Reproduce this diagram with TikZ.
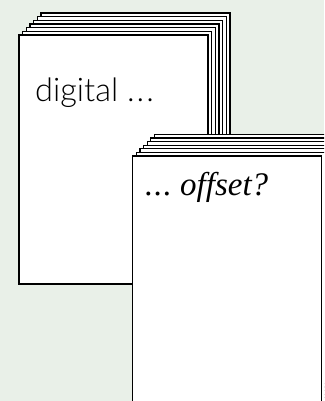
\documentclass[tikz,border=0pt]{standalone}
\usepackage{fontspec}
\newfontfamily\sansfont{Lato Light}
\newfontfamily\seriffont{Liberation Serif}
\definecolor{bg}{RGB}{233,240,232}
\begin{document}
\begin{tikzpicture}[x=1pt,y=-1pt,
  sheet/.style={draw=black, fill=white, line width=1.2pt, anchor=north west,
    minimum width=189pt, minimum height=249pt, inner sep=0pt, outer sep=0pt},
  label/.style={anchor=base west, inner sep=0pt}]
\useasboundingbox (0,0) rectangle (324,401);
\clip (0,0) rectangle (324,401);
\fill[bg] (0,0) rectangle (324,401);
% stack 1
\foreach \k in {6,5,...,1}{
  \node[sheet] (sa\k) at ({19+3.65*\k},{35-3.65*\k}) {};
}
\node[sheet] (sa0) at (19,35) {};
\node[label, font=\sansfont\fontsize{32.5}{40}\selectfont] (ta) at (35,102) {digital .\kern2pt.\kern2pt.};
% stack 2
\foreach \k in {6,5,...,1}{
  \node[sheet] (sb\k) at ({132.7+3.6*\k},{156-3.6*\k}) {};
}
\node[sheet] (sb0) at (132.7,156) {};
\node[label, font=\seriffont\itshape\fontsize{33}{40}\selectfont] (tb) at (145,195) {.\kern1pt.\kern1pt.\ offset?};
\end{tikzpicture}
\end{document}
